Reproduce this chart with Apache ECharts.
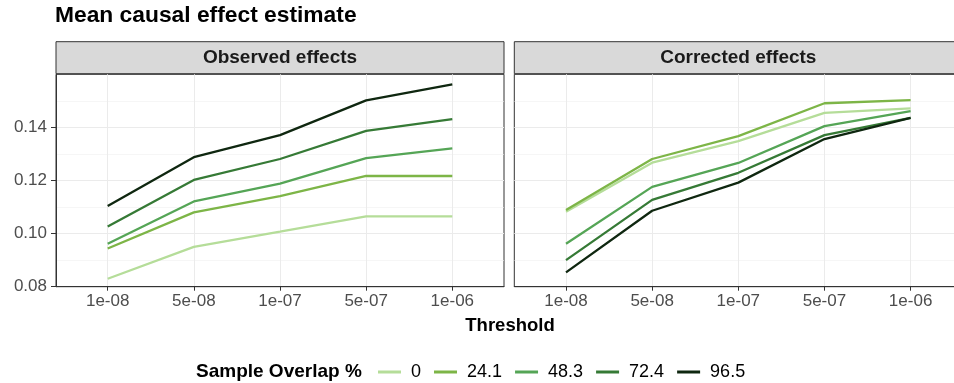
<!DOCTYPE html>
<html><head><meta charset="utf-8">
<script src="https://cdn.jsdelivr.net/npm/echarts@6/dist/echarts.min.js"></script>
<style>html,body{margin:0;padding:0;background:#fff;overflow:hidden;width:954px;height:383px}#c{width:975px;height:383px}</style>
</head><body><div id="c"></div>
<script>
const thresholds = ['1e-08','5e-08','1e-07','5e-07','1e-06'];
const overlaps = ['0','24.1','48.3','72.4','96.5'];
const panels = ['Observed effects','Corrected effects'];
const observed_0    = [0.0830,0.0950,0.1007,0.1065,0.1065];
const observed_24_1 = [0.0944,0.1080,0.1141,0.1217,0.1217];
const observed_48_3 = [0.0962,0.1121,0.1188,0.1284,0.1321];
const observed_72_4 = [0.1027,0.1202,0.1281,0.1387,0.1431];
const observed_96_5 = [0.1104,0.1288,0.1371,0.1502,0.1562];
const corrected_0    = [0.1082,0.1267,0.1348,0.1455,0.1472];
const corrected_24_1 = [0.1089,0.1281,0.1367,0.1491,0.1503];
const corrected_48_3 = [0.0962,0.1176,0.1266,0.1405,0.1461];
const corrected_72_4 = [0.0900,0.1127,0.1229,0.1371,0.1436];
const corrected_96_5 = [0.0854,0.1086,0.1192,0.1356,0.1436];
const yTicks = [0.08,0.10,0.12,0.14];

const colors = ['#b5dd99','#7db547','#55a556','#367a36','#0f2710'];
const observedSets = [observed_0,observed_24_1,observed_48_3,observed_72_4,observed_96_5];
const correctedSets = [corrected_0,corrected_24_1,corrected_48_3,corrected_72_4,corrected_96_5];
const FONT = '"Liberation Sans", Arial, Helvetica, sans-serif';
const xIdx = thresholds.map((t,i)=>i);

const chart = echarts.init(document.getElementById('c'), null, {renderer:'canvas'});
const gridTop = 74.3, gridH = 212.4;
const grids = [
  {left:56, top:gridTop, width:448, height:gridH},
  {left:514.3, top:gridTop, width:448, height:gridH}
];
function xAx(i){
  return {type:'value', gridIndex:i, min:-0.6, max:4.6, splitNumber:5,
    axisLine:{show:true,onZero:false,lineStyle:{color:'#333',width:1}},
    axisTick:{show:true,length:4,customValues:xIdx,lineStyle:{color:'#333'}},
    axisLabel:{color:'#4d4d4d',fontSize:17,fontFamily:FONT,margin:6,customValues:xIdx,
      formatter:function(v){const k=Math.round(v);return Math.abs(v-k)<1e-6&&k>=0&&k<thresholds.length?thresholds[k]:'';}},
    splitLine:{show:true,lineStyle:{color:'#ebebeb',width:1}},
    minorSplitLine:{show:false}};
}
function yAx(i){
  return {type:'value', gridIndex:i, min:0.08, max:0.16, interval:0.02,
    axisLine:{show:i===0,onZero:false,lineStyle:{color:'#333',width:1}},
    axisTick:{show:i===0,length:5,customValues:yTicks,lineStyle:{color:'#333'}},
    axisLabel:{show:i===0,color:'#4d4d4d',fontSize:17,fontFamily:FONT,margin:9,customValues:yTicks,
      formatter:function(v){return yTicks.some(t=>Math.abs(t-v)<1e-6)?v.toFixed(2):'';}},
    splitLine:{show:true,lineStyle:{color:'#ebebeb',width:1.1}},
    minorTick:{show:false,splitNumber:2},
    minorSplitLine:{show:true,lineStyle:{color:'#f0f0f0',width:0.6}}};
}
const series = [];
[observedSets, correctedSets].forEach((sets,pi)=>{
  sets.forEach((vals,si)=>{
    series.push({type:'line', name:overlaps[si], xAxisIndex:pi, yAxisIndex:pi,
      data: vals.map((v,k)=>[xIdx[k],v]), showSymbol:false, symbol:'none',
      lineStyle:{color:colors[si], width:2.3}, itemStyle:{color:colors[si]},
      emphasis:{disabled:true}, animation:false, z:3+si});
  });
});
const graphics = [
  {type:'text', left:55, top:4, style:{text:'Mean causal effect estimate', font:'bold 22.8px '+FONT, fill:'#000'}},
  {type:'rect', shape:{x:56, y:41.7, width:448, height:32}, style:{fill:'#d9d9d9', stroke:'#333', lineWidth:1}},
  {type:'rect', shape:{x:514.3, y:41.7, width:448, height:32}, style:{fill:'#d9d9d9', stroke:'#333', lineWidth:1}},
  {type:'text', x:280, y:58, style:{text:panels[0], font:'bold 19px '+FONT, fill:'#1a1a1a', align:'center', verticalAlign:'middle'}},
  {type:'text', x:738.3, y:58, style:{text:panels[1], font:'bold 19px '+FONT, fill:'#1a1a1a', align:'center', verticalAlign:'middle'}},
  {type:'text', x:510, y:326, style:{text:'Threshold', font:'bold 18.5px '+FONT, fill:'#000', align:'center', verticalAlign:'middle'}},
  {type:'text', x:196, y:372, style:{text:'Sample Overlap %', font:'bold 19px '+FONT, fill:'#000', align:'left', verticalAlign:'middle'}}
];
chart.setOption({
  animation:false,
  backgroundColor:'#fff',
  grid: grids.map(g=>Object.assign({show:true, borderColor:'#333', borderWidth:1, backgroundColor:'transparent'},g)),
  xAxis:[xAx(0),xAx(1)],
  yAxis:[yAx(0),yAx(1)],
  legend:{data:overlaps, left:378, top:363, padding:0, itemWidth:23, itemHeight:3, itemGap:13, icon:'rect',
    textStyle:{fontSize:18, color:'#000', fontFamily:FONT, padding:[0,0,0,5]}, selectedMode:false},
  series: series,
  graphic: graphics
});
</script></body></html>
